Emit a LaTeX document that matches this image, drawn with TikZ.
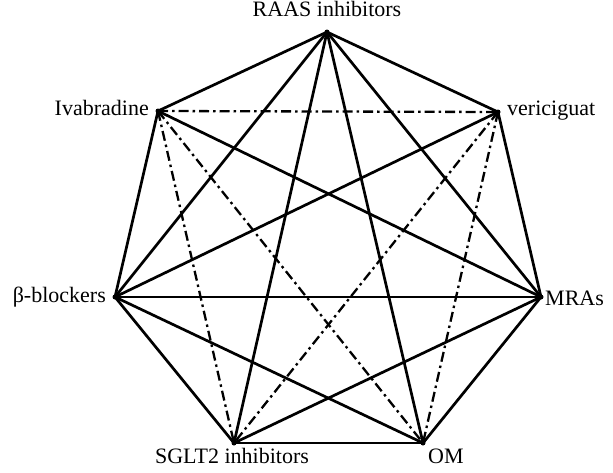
\documentclass[tikz,border=0pt]{standalone}
\usepackage{fontspec}
\setmainfont{Liberation Serif}
\begin{document}
\begin{tikzpicture}[x=1pt,y=-1pt,
  vtx/.style={circle,fill=black,inner sep=0pt,minimum size=5pt},
  lbl/.style={inner sep=0pt,font=\fontsize{22}{26}\selectfont},
  solidedge/.style={line width=2.7pt},
  dashdotedge/.style={line width=2.3pt,dash pattern=on 10pt off 4pt on 2.5pt off 4pt}]
\useasboundingbox (0,0) rectangle (613,472);
\node[vtx] (raas) at (327,32) {};
\node[vtx] (veri) at (498,112) {};
\node[vtx] (mra) at (541,297) {};
\node[vtx] (om) at (423,443) {};
\node[vtx] (sglt) at (234,443) {};
\node[vtx] (beta) at (115,297) {};
\node[vtx] (iva) at (158,111) {};
% labels
\node[lbl,anchor=base] (lraas) at (327,16) {RAAS inhibitors};
\node[lbl,anchor=base west] (lveri) at (507,115) {vericiguat};
\node[lbl,anchor=base west] (lmra) at (545,305) {MRAs};
\node[lbl,anchor=base west] (lom) at (428,463) {OM};
\node[lbl,anchor=base] (lsglt) at (232,463) {SGLT2 inhibitors};
\node[lbl,anchor=base east] (lbeta) at (106,302) {β-blockers};
\node[lbl,anchor=base east] (liva) at (149,115) {Ivabradine};
% solid edges
\foreach \a/\b in {raas/iva,raas/veri,raas/beta,raas/mra,raas/sglt,raas/om,
  iva/beta,iva/mra,veri/mra,veri/beta,beta/mra,beta/sglt,beta/om,
  mra/sglt,mra/om,sglt/om}
  \draw[solidedge] (\a.center) -- (\b.center);
% dash-dot edges
\foreach \a/\b in {iva/veri,iva/sglt,iva/om,veri/sglt,veri/om}
  \draw[dashdotedge] (\a.center) -- (\b.center);
\end{tikzpicture}
\end{document}
